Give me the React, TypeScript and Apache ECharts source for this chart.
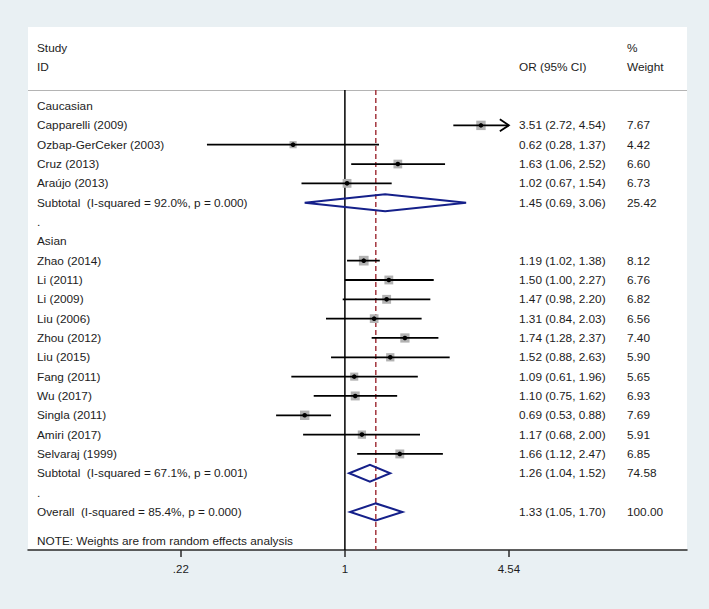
import React, { useEffect, useRef } from "react";
import * as echarts from "echarts";

// ---------- data ----------
const cauStudies = ["Capparelli (2009)", "Ozbap-GerCeker (2003)", "Cruz (2013)", "Araújo (2013)"];
const cauOR = [3.51, 0.62, 1.63, 1.02];
const cauLo = [2.72, 0.28, 1.06, 0.67];
const cauHi = [4.54, 1.37, 2.52, 1.54];
const cauW = [7.67, 4.42, 6.6, 6.73];

const asiaStudies = [
  "Zhao (2014)", "Li (2011)", "Li (2009)", "Liu (2006)", "Zhou (2012)", "Liu (2015)",
  "Fang (2011)", "Wu (2017)", "Singla (2011)", "Amiri (2017)", "Selvaraj (1999)",
];
const asiaOR = [1.19, 1.5, 1.47, 1.31, 1.74, 1.52, 1.09, 1.1, 0.69, 1.17, 1.66];
const asiaLo = [1.02, 1.0, 0.98, 0.84, 1.28, 0.88, 0.61, 0.75, 0.53, 0.68, 1.12];
const asiaHi = [1.38, 2.27, 2.2, 2.03, 2.37, 2.63, 1.96, 1.62, 0.88, 2.0, 2.47];
const asiaW = [8.12, 6.76, 6.82, 6.56, 7.4, 5.9, 5.65, 6.93, 7.69, 5.91, 6.85];

// pooled: [OR, lo, hi, weight, I-squared, p]
const cauSubtotal = [1.45, 0.69, 3.06, 25.42, 92.0, "0.000"];
const asiaSubtotal = [1.26, 1.04, 1.52, 74.58, 67.1, "0.001"];
const overall = [1.33, 1.05, 1.7, 100.0, 85.4, "0.000"];

const xTickValues = [0.22, 1, 4.54];
const xTickLabels = [".22", "1", "4.54"];

// ---------- styles ----------
const FONT = "'Liberation Sans', Arial, sans-serif";
const FS = 11.8;
const TXT = "#1c1c1c";
const NAVY = "#15208a";

type Row = { kind: number; label: string; or: number; lo: number; hi: number; w: number };

function buildRows(): Row[] {
  const rows: Row[] = [];
  const head = (label: string) => rows.push({ kind: 0, label, or: 1, lo: 1, hi: 1, w: 0 });
  const pooled = (p: any[]) =>
    rows.push({
      kind: 2,
      label: (p === overall ? "Overall" : "Subtotal") + "  (I-squared = " + Number(p[4]).toFixed(1) + "%, p = " + p[5] + ")",
      or: p[0], lo: p[1], hi: p[2], w: p[3],
    });
  head("Caucasian");
  cauStudies.forEach((s, i) => rows.push({ kind: 1, label: s, or: cauOR[i], lo: cauLo[i], hi: cauHi[i], w: cauW[i] }));
  pooled(cauSubtotal);
  head(".");
  head("Asian");
  asiaStudies.forEach((s, i) => rows.push({ kind: 1, label: s, or: asiaOR[i], lo: asiaLo[i], hi: asiaHi[i], w: asiaW[i] }));
  pooled(asiaSubtotal);
  head(".");
  pooled(overall);
  return rows;
}

export default function App() {
  const ref = useRef<HTMLDivElement>(null);
  useEffect(() => {
    const chart = echarts.init(ref.current!, null, { renderer: "svg" });
    const rows = buildRows();
    const ln = Math.log;
    const plotMax = xTickValues[xTickValues.length - 1];
    const yMin = -0.83;
    const yMax = 22.97;

    const data = rows.map((r, i) => [ln(r.or), i, ln(r.lo), ln(r.hi), r.w, r.kind]);

    const txt = (x: number, y: number, text: string) => ({
      type: "text",
      style: { x, y, text, fill: TXT, fontSize: FS, fontFamily: FONT, align: "left", verticalAlign: "middle" },
    });

    const renderItem = (params: any, api: any) => {
      const idx = params.dataIndex;
      const r = rows[idx];
      const kind = api.value(5);
      const c = api.coord([api.value(0), api.value(1)]);
      const y = c[1];
      const children: any[] = [];
      children.push(txt(37, y, r.label));
      if (kind === 1) {
        const xl = api.coord([api.value(2), api.value(1)])[0];
        const xh = api.coord([api.value(3), api.value(1)])[0];
        const s = 3.4 * Math.sqrt(api.value(4));
        children.push({
          type: "rect",
          shape: { x: c[0] - s / 2, y: y - s / 2, width: s, height: s },
          style: { fill: "#b2b2b2" },
        });
        children.push({
          type: "line",
          shape: { x1: xl, y1: y, x2: xh, y2: y },
          style: { stroke: "#000", lineWidth: 1.8 },
        });
        if (r.hi >= plotMax) {
          children.push({
            type: "polyline",
            shape: { points: [[xh - 9, y - 6], [xh, y], [xh - 9, y + 6]] },
            style: { stroke: "#000", lineWidth: 1.8, fill: "none" },
          });
        }
        children.push({ type: "circle", shape: { cx: c[0], cy: y, r: 2.3 }, style: { fill: "#000" } });
      } else if (kind === 2) {
        const xl = api.coord([api.value(2), api.value(1)])[0];
        const xh = api.coord([api.value(3), api.value(1)])[0];
        const h = 8.5;
        children.push({
          type: "polygon",
          shape: { points: [[xl, y], [c[0], y - h], [xh, y], [c[0], y + h]] },
          style: { stroke: NAVY, lineWidth: 2, fill: "none" },
        });
      }
      if (kind !== 0) {
        children.push(txt(519, y, r.or.toFixed(2) + " (" + r.lo.toFixed(2) + ", " + r.hi.toFixed(2) + ")"));
        children.push(txt(627, y, r.w.toFixed(2)));
      }
      return { type: "group", children };
    };

    const tickLn = xTickValues.map((v) => ln(v));

    chart.setOption({
      animation: false,
      backgroundColor: "#e9f0f3",
      grid: { left: 28, right: 22, top: 90, bottom: 59 },
      xAxis: {
        type: "value",
        min: ln(0.0537),
        max: ln(23.5),
        splitLine: { show: false },
        axisLine: { show: true, onZero: false, lineStyle: { color: "#2a2a2a", width: 1.5 } },
        axisTick: { show: true, customValues: tickLn, length: 7, lineStyle: { color: "#2a2a2a", width: 1.5 } },
        axisLabel: {
          customValues: tickLn,
          margin: 13,
          fontSize: 11.5,
          color: TXT,
          fontFamily: FONT,
          formatter: (v: number) => {
            const k = tickLn.findIndex((t) => Math.abs(t - v) < 1e-6);
            return k >= 0 ? xTickLabels[k] : "";
          },
        },
      },
      yAxis: { type: "value", inverse: true, min: yMin, max: yMax, show: false },
      graphic: [
        { type: "rect", z: -10, shape: { x: 28, y: 27, width: 659, height: 523 }, style: { fill: "#ffffff" } },
        { type: "line", shape: { x1: 28, y1: 90.5, x2: 687, y2: 90.5 }, style: { stroke: "#b4b4b4", lineWidth: 1 } },
        { type: "text", style: { x: 37, y: 48, text: "Study", fill: TXT, fontSize: FS, fontFamily: FONT, verticalAlign: "middle" } },
        { type: "text", style: { x: 37, y: 67, text: "ID", fill: TXT, fontSize: FS, fontFamily: FONT, verticalAlign: "middle" } },
        { type: "text", style: { x: 519, y: 67, text: "OR (95% CI)", fill: TXT, fontSize: FS, fontFamily: FONT, verticalAlign: "middle" } },
        { type: "text", style: { x: 627, y: 48, text: "%", fill: TXT, fontSize: FS, fontFamily: FONT, verticalAlign: "middle" } },
        { type: "text", style: { x: 627, y: 67, text: "Weight", fill: TXT, fontSize: FS, fontFamily: FONT, verticalAlign: "middle" } },
        { type: "text", style: { x: 37, y: 541, text: "NOTE: Weights are from random effects analysis", fill: TXT, fontSize: FS, fontFamily: FONT, verticalAlign: "middle" } },
      ],
      series: [
        {
          type: "line",
          data: [[0, yMin], [0, yMax]],
          symbol: "none",
          z: 1,
          lineStyle: { color: "#000", width: 1.5 },
        },
        {
          type: "line",
          data: [[ln(overall[0] as number), yMin], [ln(overall[0] as number), yMax]],
          symbol: "none",
          z: 1,
          lineStyle: { color: "#a3363e", width: 1.5, type: [5, 3] },
        },
        {
          type: "custom",
          z: 3,
          clip: false,
          renderItem,
          encode: { x: 0, y: 1 },
          data,
        },
      ],
    });
    return () => chart.dispose();
  }, []);
  return <div ref={ref} style={{ position: "absolute", left: 0, top: 0, width: 709, height: 609 }} />;
}
